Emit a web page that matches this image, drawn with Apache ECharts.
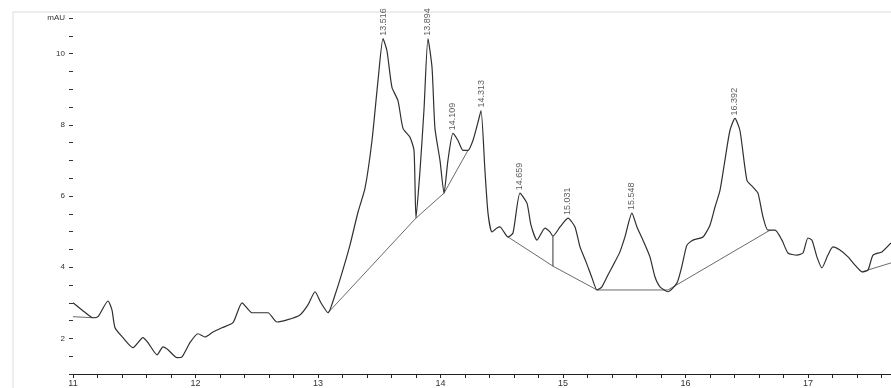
<!DOCTYPE html>
<html>
<head>
<meta charset="utf-8">
<script src="https://cdn.jsdelivr.net/npm/echarts@6/dist/echarts.min.js"></script>
<style>html,body{margin:0;padding:0;background:#fff}#c{width:891px;height:388px}</style>
</head>
<body>
<div id="c"></div>
<script>
// retention time (min)
const times = [11.000,11.073,11.163,11.204,11.286,11.318,11.343,11.408,11.490,11.571,11.612,11.686,11.735,11.776,11.849,11.890,11.955,12.020,12.078,12.143,12.216,12.306,12.380,12.461,12.527,12.592,12.665,12.747,12.853,12.918,12.976,13.024,13.082,13.139,13.196,13.261,13.327,13.384,13.441,13.490,13.531,13.563,13.604,13.653,13.694,13.751,13.784,13.800,13.833,13.865,13.898,13.931,13.955,13.996,14.029,14.061,14.102,14.143,14.184,14.224,14.265,14.306,14.331,14.363,14.388,14.420,14.461,14.486,14.518,14.551,14.592,14.649,14.706,14.739,14.788,14.853,14.894,14.918,14.976,15.041,15.098,15.139,15.188,15.237,15.278,15.318,15.367,15.424,15.465,15.506,15.563,15.604,15.653,15.710,15.751,15.792,15.857,15.931,15.971,16.012,16.061,16.143,16.200,16.241,16.282,16.322,16.363,16.404,16.445,16.502,16.551,16.592,16.633,16.673,16.731,16.788,16.837,16.910,16.959,17.000,17.033,17.073,17.114,17.163,17.204,17.261,17.327,17.384,17.441,17.490,17.531,17.604,17.678];
// absorbance (mAU)
const signal = [3.00,2.80,2.58,2.61,3.05,2.80,2.30,2.02,1.74,2.02,1.88,1.54,1.76,1.68,1.46,1.48,1.88,2.13,2.04,2.18,2.30,2.44,3.00,2.72,2.72,2.72,2.46,2.52,2.66,2.94,3.31,3.00,2.72,3.22,3.84,4.62,5.55,6.22,7.56,9.24,10.42,10.08,9.05,8.68,7.90,7.65,7.28,5.38,6.72,8.40,10.42,9.61,7.90,7.00,6.08,7.00,7.76,7.56,7.28,7.28,7.56,8.07,8.40,6.72,5.52,4.99,5.10,5.13,4.99,4.85,4.96,6.08,5.80,5.18,4.76,5.10,4.99,4.87,5.13,5.38,5.13,4.57,4.15,3.70,3.36,3.45,3.78,4.15,4.43,4.85,5.52,5.13,4.76,4.29,3.73,3.45,3.31,3.56,4.03,4.62,4.76,4.85,5.18,5.69,6.16,7.00,7.84,8.18,7.84,6.44,6.25,6.08,5.41,5.04,5.04,4.76,4.40,4.34,4.40,4.82,4.76,4.29,3.98,4.34,4.57,4.48,4.29,4.06,3.87,3.92,4.34,4.43,4.68];

// integration baselines (null = break)
const baseTimes = [11.000,11.163,null,13.082,13.800,14.029,14.224,null,14.551,14.918,15.278,15.857,16.690,null,17.441,17.678];
const baseValues = [2.61,2.58,null,2.72,5.38,6.08,7.28,null,4.85,4.03,3.36,3.36,5.04,null,3.87,4.12];

// drop lines
const dropTimes = [14.918];
const dropTop = [4.87];
const dropBottom = [4.03];

// labelled peaks
const peakTimes = [13.531,13.898,14.102,14.331,14.649,15.041,15.563,16.404];
const peakHeights = [10.42,10.42,7.76,8.40,6.08,5.38,5.52,8.18];
const peakLabels = ["13.516","13.894","14.109","14.313","14.659","15.031","15.548","16.392"];

const traceData = times.map((t,i)=>[t, signal[i]]);
const baseData = baseTimes.map((t,i)=> t === null ? ['-','-'] : [t, baseValues[i]]);
const dropData = [];
dropTimes.forEach((t,i)=>{ dropData.push([t, dropTop[i]], [t, dropBottom[i]], ['-','-']); });
const peakData = peakTimes.map((t,i)=>({value:[t, peakHeights[i]], name: peakLabels[i]}));

const isInt = v => Math.abs(v - Math.round(v)) < 1e-6;
const font = 'Liberation Sans, Arial, sans-serif';

const chart = echarts.init(document.getElementById('c'), null, {renderer:'canvas'});
chart.setOption({
  animation:false,
  backgroundColor:'#fff',
  grid:{left:73, right:0, top:18, bottom:13, containLabel:false},
  graphic:[
    {type:'polyline', silent:true, shape:{points:[[13,388],[13,12],[891,12]]}, style:{stroke:'#dcdcdc', lineWidth:1, fill:null}}
  ],
  xAxis:{
    type:'value', min:11, max:17.678, interval:0.2,
    axisLine:{show:true, lineStyle:{color:'#222', width:1}},
    axisTick:{show:true, length:4, lineStyle:{color:'#222'}},
    splitLine:{show:false},
    axisLabel:{fontSize:9, color:'#333', fontFamily:font, margin:5,
      showMaxLabel:false,
      formatter: v => isInt(v) ? String(Math.round(v)) : ''}
  },
  yAxis:{
    type:'value', min:1, max:11, interval:0.5,
    axisLine:{show:false},
    axisTick:{show:true, length:4, lineStyle:{color:'#333'}},
    splitLine:{show:false},
    axisLabel:{fontSize:8, color:'#333', fontFamily:font, margin:8,
      formatter: v => (isInt(v) && Math.round(v)===11) ? 'mAU' : ((isInt(v) && Math.round(v)%2===0) ? String(Math.round(v)) : '')}
  },
  series:[
    {type:'line', data:traceData, symbol:'none', smooth:0.2,
      lineStyle:{color:'#303030', width:1.2}, z:3},
    {type:'line', data:baseData, symbol:'none', connectNulls:false,
      lineStyle:{color:'#444', width:0.8}, z:2},
    {type:'line', data:dropData, symbol:'none', connectNulls:false,
      lineStyle:{color:'#333', width:1}, z:2},
    {type:'scatter', data:peakData, symbolSize:0, z:4,
      label:{show:true, position:'top', distance:3, rotate:90, align:'left', verticalAlign:'middle',
        formatter: p => p.name, fontSize:9, color:'#333', fontFamily:font}}
  ]
});
</script>
</body>
</html>
